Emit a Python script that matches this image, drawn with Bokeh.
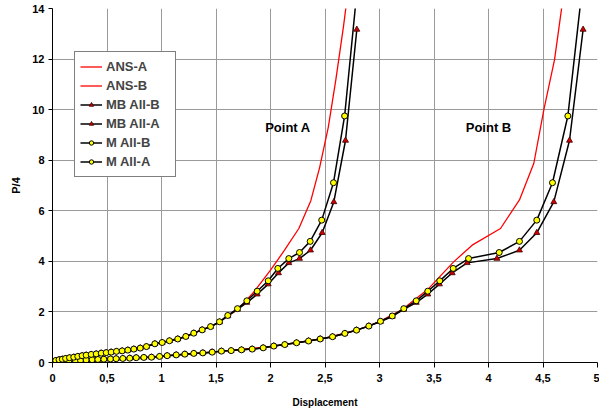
from bokeh.plotting import figure
from bokeh.models import Range1d, FixedTicker, Legend, LegendItem, ColumnDataSource
from bokeh.core.properties import value
from bokeh.embed import file_html
from bokeh.resources import INLINE

# ---------------- data ----------------
x_ticks = [0, 0.5, 1, 1.5, 2, 2.5, 3, 3.5, 4, 4.5, 5]
x_tick_labels = ["0", "0,5", "1", "1,5", "2", "2,5", "3", "3,5", "4", "4,5", "5"]
y_ticks = [0, 2, 4, 6, 8, 10, 12, 14]

ansA_x = [0, 0.3, 0.6, 0.9, 1.2, 1.5, 1.7, 1.85, 2.0, 2.13, 2.26, 2.37, 2.45, 2.53, 2.6, 2.67, 2.72]
ansA_y = [0, 0.29, 0.46, 0.69, 1.0, 1.52, 2.1, 2.8, 3.65, 4.45, 5.3, 6.4, 7.7, 9.3, 11.2, 13.3, 15.0]

ansB_x = [0, 0.5, 1.0, 1.5, 2.0, 2.5, 2.8, 3.0, 3.2, 3.45, 3.68, 3.85, 4.11, 4.284, 4.416, 4.508, 4.606, 4.676, 4.70]
ansB_y = [0, 0.13, 0.25, 0.43, 0.63, 0.96, 1.29, 1.62, 2.07, 2.92, 3.98, 4.64, 5.30, 6.43, 7.88, 10.0, 11.98, 14.17, 15.0]

mA_x = [0, 0.01, 0.03, 0.06, 0.09, 0.12, 0.156, 0.195, 0.232, 0.272, 0.309, 0.355, 0.401, 0.447,
        0.493, 0.538, 0.587, 0.639, 0.691, 0.746, 0.805, 0.862, 0.939, 1.006, 1.073, 1.149, 1.223,
        1.296, 1.373, 1.450, 1.532, 1.608, 1.697, 1.783, 1.878, 1.979, 2.067, 2.168, 2.266, 2.364,
        2.47, 2.578, 2.68, 2.80]
mA_y = [0, 0.04, 0.08, 0.11, 0.13, 0.16, 0.19, 0.21, 0.24, 0.27, 0.29, 0.32, 0.34, 0.37,
        0.39, 0.41, 0.44, 0.46, 0.49, 0.53, 0.57, 0.63, 0.74, 0.79, 0.86, 0.93, 1.03,
        1.16, 1.29, 1.42, 1.61, 1.86, 2.13, 2.44, 2.82, 3.23, 3.72, 4.11, 4.35, 4.79,
        5.63, 7.11, 9.75, 15.0]

mbA_x = [0, 0.01, 0.03, 0.06, 0.09, 0.12, 0.156, 0.195, 0.232, 0.272, 0.309, 0.355, 0.401, 0.447,
         0.493, 0.538, 0.587, 0.639, 0.691, 0.746, 0.805, 0.862, 0.939, 1.006, 1.073, 1.149, 1.223,
         1.296, 1.373, 1.450, 1.532, 1.608, 1.697, 1.783, 1.878, 1.979, 2.073, 2.168, 2.266, 2.367,
         2.474, 2.581, 2.688, 2.792]
mbA_y = [0, 0.04, 0.08, 0.11, 0.13, 0.16, 0.19, 0.21, 0.24, 0.27, 0.29, 0.32, 0.34, 0.37,
         0.39, 0.41, 0.44, 0.46, 0.49, 0.53, 0.57, 0.63, 0.74, 0.79, 0.86, 0.93, 1.03,
         1.16, 1.29, 1.42, 1.60, 1.84, 2.10, 2.37, 2.70, 3.10, 3.54, 3.94, 4.11, 4.44,
         5.13, 6.35, 8.78, 13.17]

mB_x = [0, 0.012, 0.058, 0.104, 0.150, 0.211, 0.257, 0.309, 0.364, 0.416, 0.471, 0.532, 0.584,
        0.645, 0.709, 0.768, 0.838, 0.908, 0.982, 1.052, 1.135, 1.214, 1.296, 1.379, 1.465, 1.550,
        1.639, 1.734, 1.832, 1.933, 2.030, 2.131, 2.239, 2.349, 2.456, 2.569, 2.682, 2.789, 2.902,
        3.009, 3.117, 3.223, 3.337, 3.443, 3.553, 3.676, 3.817, 4.098, 4.284, 4.443, 4.587, 4.728, 4.87]
mB_y = [0, 0.01, 0.04, 0.05, 0.07, 0.08, 0.09, 0.10, 0.11, 0.12, 0.13, 0.14, 0.15,
        0.16, 0.17, 0.19, 0.20, 0.21, 0.24, 0.27, 0.30, 0.33, 0.36, 0.38, 0.41, 0.45,
        0.47, 0.50, 0.53, 0.58, 0.65, 0.71, 0.78, 0.85, 0.93, 1.02, 1.15, 1.28, 1.44,
        1.63, 1.84, 2.13, 2.44, 2.82, 3.23, 3.72, 4.11, 4.35, 4.79, 5.63, 7.11, 9.75, 15.2]

mbB_x = [0, 0.012, 0.058, 0.104, 0.150, 0.211, 0.257, 0.309, 0.364, 0.416, 0.471, 0.532, 0.584,
         0.645, 0.709, 0.768, 0.838, 0.908, 0.982, 1.052, 1.135, 1.214, 1.296, 1.379, 1.465, 1.550,
         1.639, 1.734, 1.832, 1.933, 2.030, 2.131, 2.239, 2.349, 2.456, 2.569, 2.682, 2.789, 2.902,
         3.009, 3.117, 3.223, 3.337, 3.443, 3.550, 3.667, 3.804, 4.077, 4.284, 4.443, 4.599, 4.743, 4.868]
mbB_y = [0, 0.01, 0.04, 0.05, 0.07, 0.08, 0.09, 0.10, 0.11, 0.12, 0.13, 0.14, 0.15,
         0.16, 0.17, 0.19, 0.20, 0.21, 0.24, 0.27, 0.30, 0.33, 0.36, 0.38, 0.41, 0.45,
         0.47, 0.50, 0.53, 0.58, 0.65, 0.71, 0.78, 0.85, 0.93, 1.02, 1.15, 1.28, 1.44,
         1.62, 1.82, 2.10, 2.37, 2.70, 3.10, 3.54, 3.94, 4.11, 4.44, 5.13, 6.35, 8.78, 13.17]

note_x = [2.16, 4.0]
note_y = [9.3, 9.3]
note_text = ["Point A", "Point B"]

# ---------------- figure ----------------
FONT = "Liberation Sans"

p = figure(width=599, height=418, x_range=Range1d(0, 5), y_range=Range1d(0, 14),
           output_backend="svg", toolbar_location=None,
           min_border_left=52, min_border_right=2, min_border_top=8, min_border_bottom=56)
p.outline_line_color = None
p.background_fill_color = "white"
p.border_fill_color = "white"

p.xaxis.ticker = FixedTicker(ticks=x_ticks)
p.xaxis.major_label_overrides = {t: l for t, l in zip(x_ticks, x_tick_labels)}
p.yaxis.ticker = FixedTicker(ticks=y_ticks)
for ax in (p.xaxis, p.yaxis):
    ax.axis_line_color = "black"
    ax.axis_line_width = 1
    ax.major_tick_line_color = "black"
    ax.major_tick_in = 0
    ax.minor_tick_line_color = None
    ax.major_label_text_font = FONT
    ax.major_label_text_font_style = "bold"
    ax.major_label_text_font_size = "11px"
    ax.major_label_text_color = "black"
    ax.axis_label_text_font = FONT
    ax.axis_label_text_font_style = "bold"
    ax.axis_label_text_color = "black"
p.xaxis.major_tick_out = 5
p.yaxis.major_tick_out = 4
p.xaxis.major_label_standoff = 6
p.yaxis.major_label_standoff = 4
p.xaxis.axis_label = "Displacement"
p.xaxis.axis_label_text_font_size = "10px"
p.xaxis.axis_label_standoff = 12
p.yaxis.axis_label = "P/4"
p.yaxis.axis_label_text_font_size = "11px"
p.yaxis.axis_label_standoff = 7

p.xgrid.ticker = FixedTicker(ticks=x_ticks)
p.ygrid.ticker = FixedTicker(ticks=y_ticks)
for g in (p.xgrid, p.ygrid):
    g.grid_line_color = "#9a9a9a"
    g.grid_line_width = 1

r_ansA = p.line(ansA_x, ansA_y, line_color="#ff0000", line_width=1.3)
r_ansB = p.line(ansB_x, ansB_y, line_color="#ff0000", line_width=1.3)

r_mbB_l = p.line(mbB_x, mbB_y, line_color="black", line_width=1.5)
r_mbB_m = p.scatter(mbB_x, mbB_y, marker="triangle", size=6, fill_color="#cc0000",
                    line_color="#400000", line_width=0.8)
r_mbA_l = p.line(mbA_x, mbA_y, line_color="black", line_width=1.5)
r_mbA_m = p.scatter(mbA_x, mbA_y, marker="triangle", size=6, fill_color="#cc0000",
                    line_color="#400000", line_width=0.8)
r_mB_l = p.line(mB_x, mB_y, line_color="black", line_width=1.5)
r_mB_m = p.scatter(mB_x, mB_y, marker="circle", size=6, fill_color="#ffff00",
                   line_color="black", line_width=1)
r_mA_l = p.line(mA_x, mA_y, line_color="black", line_width=1.5)
r_mA_m = p.scatter(mA_x, mA_y, marker="circle", size=6, fill_color="#ffff00",
                   line_color="black", line_width=1)

src = ColumnDataSource(dict(x=note_x, y=note_y, t=note_text))
p.text(x="x", y="y", text="t", source=src, text_font=value(FONT), text_font_style="bold",
       text_font_size="13px", text_align="center", text_baseline="middle", text_color="black")

legend = Legend(items=[
    LegendItem(label="ANS-A", renderers=[r_ansA]),
    LegendItem(label="ANS-B", renderers=[r_ansB]),
    LegendItem(label="MB All-B", renderers=[r_mbB_l, r_mbB_m]),
    LegendItem(label="MB All-A", renderers=[r_mbA_l, r_mbA_m]),
    LegendItem(label="M All-B", renderers=[r_mB_l, r_mB_m]),
    LegendItem(label="M All-A", renderers=[r_mA_l, r_mA_m]),
], location=(22, 185))
legend.border_line_color = "black"
legend.border_line_width = 1
legend.background_fill_color = "white"
legend.background_fill_alpha = 1
legend.label_text_font = FONT
legend.label_text_font_style = "bold"
legend.label_text_font_size = "13px"
legend.label_height = 19
legend.glyph_height = 11
legend.glyph_width = 22
legend.label_width = 64
legend.label_standoff = 4
legend.spacing = 0
legend.padding = 5
legend.margin = 0
p.add_layout(legend, "center")

open("out.html", "w").write(file_html(p, INLINE))
